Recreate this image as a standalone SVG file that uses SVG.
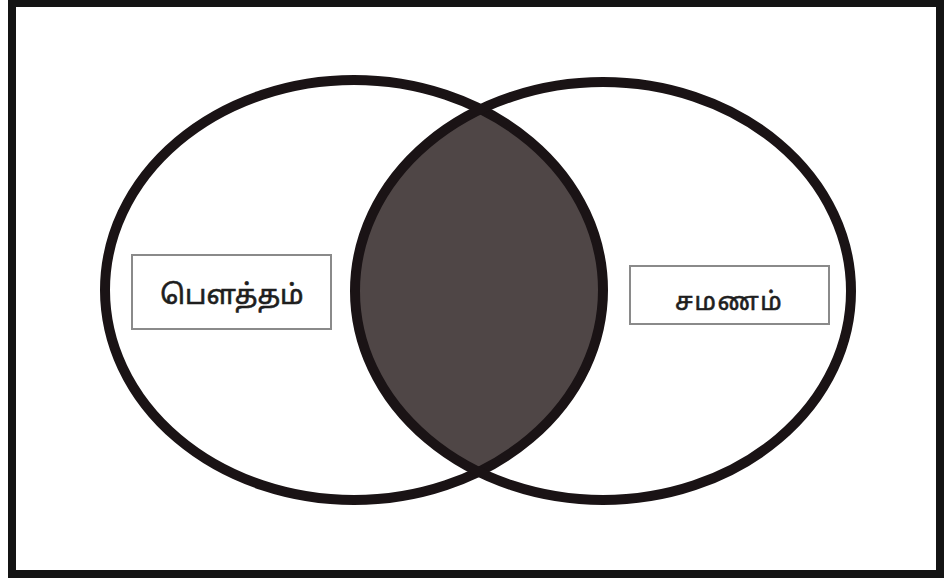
<svg xmlns="http://www.w3.org/2000/svg" width="945" height="583" viewBox="0 0 945 583">
<style>
.ring{fill:none;stroke:#1a1315;stroke-width:10}
.box{fill:#ffffff;stroke:#8a8a8a;stroke-width:2}
.lbl{font-family:"Noto Sans Tamil","Latha","Noto Sans","DejaVu Sans",sans-serif;fill:#1e1e1e;stroke:#1e1e1e;stroke-width:0.6;text-anchor:middle}
</style>
<defs>
<clipPath id="clipL"><ellipse cx="354" cy="290" rx="249" ry="210"/></clipPath>
</defs>
<rect x="0" y="0" width="945" height="583" fill="#ffffff"/>
<rect x="12" y="3" width="928" height="571" fill="none" stroke="#141414" stroke-width="8"/>
<g id="overlap">
<ellipse cx="603" cy="291" rx="248" ry="209" fill="#4f4646" clip-path="url(#clipL)"/>
</g>
<g id="set-left">
<ellipse class="ring" cx="354" cy="290" rx="249" ry="210"/>
</g>
<g id="set-right">
<ellipse class="ring" cx="603" cy="291" rx="248" ry="209"/>
</g>
<g id="label-left">
<rect class="box" x="132" y="255" width="199" height="74"/>
<text class="lbl" x="232" y="304" font-size="27.5">பௌத்தம்</text>
</g>
<g id="label-right">
<rect class="box" x="630" y="266" width="199" height="58"/>
<text class="lbl" x="729" y="310" font-size="25" letter-spacing="1.5">சமணம்</text>
</g>
</svg>
